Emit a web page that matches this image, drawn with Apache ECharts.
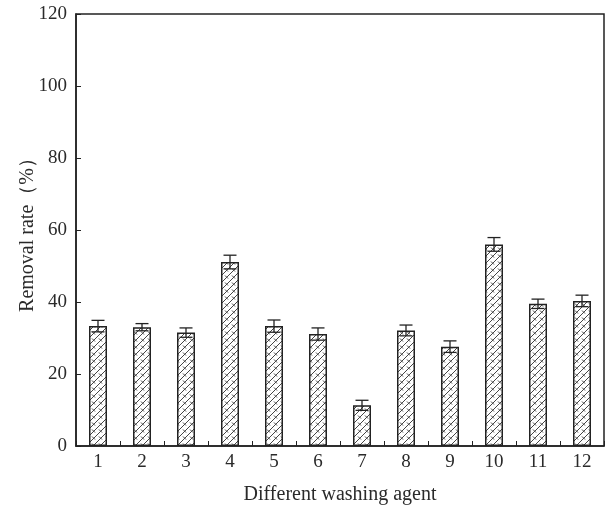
<!DOCTYPE html>
<html><head><meta charset="utf-8">
<script src="https://cdn.jsdelivr.net/npm/echarts@6/dist/echarts.min.js"></script>
<style>html,body{margin:0;padding:0;background:#fff}#c{width:606px;height:510px}</style>
</head><body><div id="c"></div>
<script>
const categories = ['1','2','3','4','5','6','7','8','9','10','11','12'];
const removalRate = [33.3, 33.0, 31.5, 51.1, 33.3, 31.1, 11.3, 32.1, 27.6, 56.0, 39.5, 40.3];
const errorValues = [1.6, 1.0, 1.3, 1.9, 1.7, 1.7, 1.4, 1.5, 1.6, 1.9, 1.3, 1.6];
const yTicks = [0, 20, 40, 60, 80, 100, 120];

function makePattern(){
  const c = document.createElement('canvas');
  c.width = 7; c.height = 7;
  const g = c.getContext('2d');
  g.fillStyle = '#fff'; g.fillRect(0,0,7,7);
  g.strokeStyle = '#444'; g.lineWidth = 1;
  g.beginPath();
  g.moveTo(0,7); g.lineTo(7,0);
  g.moveTo(-1,1); g.lineTo(1,-1);
  g.moveTo(6,8); g.lineTo(8,6);
  g.moveTo(1,2.5); g.lineTo(4,5.5);
  g.stroke();
  return c;
}
const pattern = makePattern();
const font = 'Liberation Serif';
const txt = '#2a2a2a';
const chart = echarts.init(document.getElementById('c'), null, {renderer:'canvas'});
chart.setOption({
  animation:false,
  grid:{left:76,right:2,top:14,bottom:63,show:true,borderColor:'#222',borderWidth:1.5,backgroundColor:'transparent',containLabel:false},
  xAxis:{
    type:'category', data:categories,
    name:'Different washing agent', nameLocation:'middle', nameGap:39, nameMoveOverlap:false,
    nameTextStyle:{fontFamily:font,fontSize:20,color:txt},
    axisLine:{lineStyle:{color:'#222',width:1.5}},
    axisTick:{show:true,inside:true,length:5,alignWithLabel:false,lineStyle:{color:'#222'}},
    axisLabel:{fontFamily:font,fontSize:19,color:txt,margin:7},
    splitLine:{show:false}
  },
  yAxis:{
    type:'value', min:yTicks[0], max:yTicks[yTicks.length-1], interval:20,
    name:'Removal rate（%）', nameLocation:'middle', nameGap:38, nameMoveOverlap:false,
    nameTextStyle:{fontFamily:font,fontSize:20,color:txt},
    axisLine:{show:true,lineStyle:{color:'#222',width:1.5}},
    axisTick:{show:true,inside:true,length:5,lineStyle:{color:'#222'}},
    axisLabel:{fontFamily:font,fontSize:19,color:txt,margin:9},
    splitLine:{show:false}
  },
  series:[
    {type:'bar', data:removalRate, barWidth:18,
     itemStyle:{color:{image:pattern,repeat:'repeat'},borderColor:'#222',borderWidth:1.5}},
    {type:'custom', data:removalRate.map((v,i)=>[i, v-errorValues[i], v+errorValues[i]]),
     z:10,
     renderItem:function(params, api){
       const lo = api.coord([api.value(0), api.value(1)]);
       const hi = api.coord([api.value(0), api.value(2)]);
       const hw = 6.5;
       const st = {stroke:'#222', lineWidth:1.3};
       return {type:'group', children:[
         {type:'line', shape:{x1:lo[0],y1:lo[1],x2:hi[0],y2:hi[1]}, style:st},
         {type:'line', shape:{x1:lo[0]-hw,y1:lo[1],x2:lo[0]+hw,y2:lo[1]}, style:st},
         {type:'line', shape:{x1:hi[0]-hw,y1:hi[1],x2:hi[0]+hw,y2:hi[1]}, style:st}
       ]};
     }}
  ]
});
</script></body></html>
